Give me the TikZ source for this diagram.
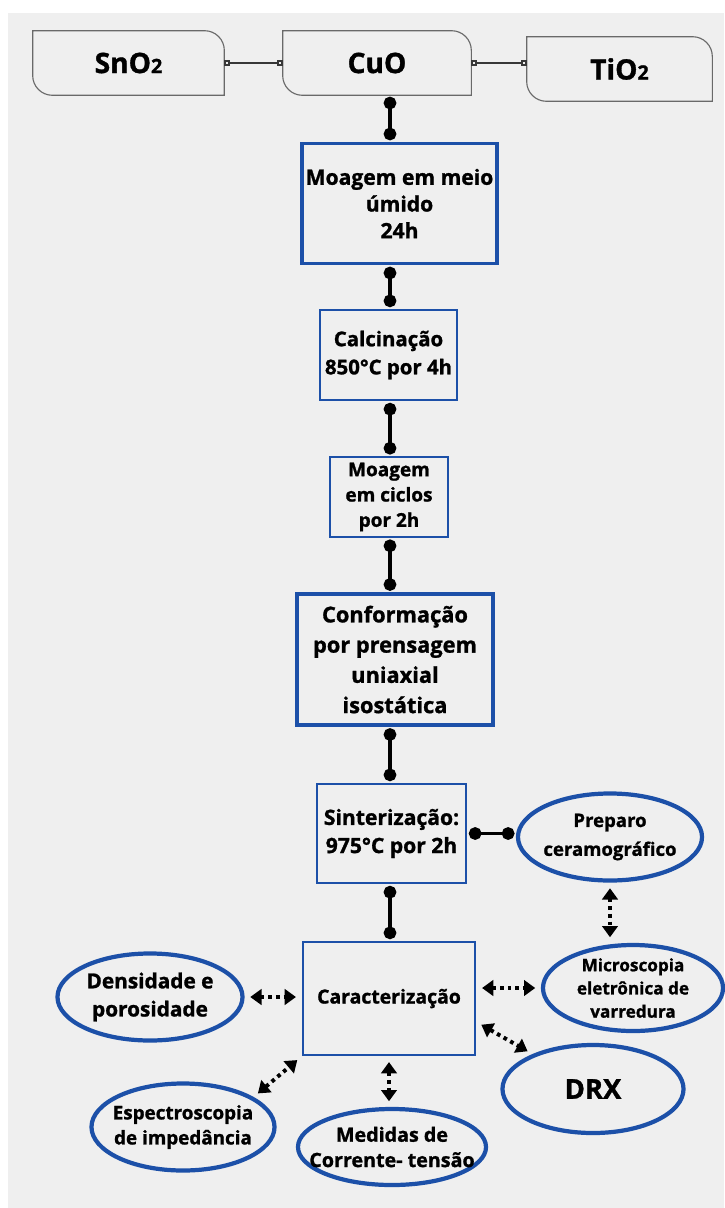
\documentclass[tikz,border=0pt]{standalone}
\usepackage{fontspec}
\setmainfont{Open Sans}[BoldFeatures={FakeBold=1.2}]
\usetikzlibrary{shapes.geometric,arrows.meta}

\definecolor{boxblue}{RGB}{28,80,168}
\definecolor{paper}{RGB}{239,239,239}
\definecolor{tabgray}{RGB}{105,105,105}
\definecolor{tiegray}{RGB}{55,55,55}

\tikzset{
  tab/.style={inner sep=0pt, minimum height=1.6cm, font=\fontsize{20}{22}\selectfont\bfseries},
  tabline/.style={draw=tabgray, line width=0.8pt},
  stepbox/.style={draw=boxblue, line width=2pt, align=center, inner sep=2pt},
  bubble/.style={ellipse, draw=boxblue, line width=3pt, align=center, inner xsep=-20pt, inner ysep=-6pt},
  link/.style={line width=2.4pt, {Circle[length=9pt]}-{Circle[length=9pt]}, shorten <=1pt, shorten >=1pt},
  tie/.style={draw=tiegray, line width=1.1pt, {Square[open,length=4pt]}-{Square[open,length=4pt]}},
  dotarrow/.style={line width=2.8pt, dash pattern=on 2.6pt off 2.8pt, {Triangle[length=8pt,width=11pt]}-{Triangle[length=8pt,width=11pt]}, shorten <=4pt, shorten >=4pt}
}

\begin{document}
\begin{tikzpicture}[x=0.025cm, y=-0.025cm]
    \useasboundingbox (0,0) rectangle (724,1208);
    % Background
    \fill[paper] (8,13) rectangle (724,1208);

    % Oxides
    \node[tab, minimum width=4.775cm] (sno) at (128.5,63) {SnO{\fontsize{14}{14}\selectfont 2}};
    \node[tab, minimum width=4.7cm] (cuo) at (377,63) {CuO};
    \node[tab, minimum width=4.625cm] (tio) at (619.5,69) {TiO{\fontsize{14}{14}\selectfont 2}};
    \draw[tabline] (sno.north west) -- ([xshift=-14pt]sno.north east)
        arc[start angle=90, end angle=0, radius=14pt] -- (sno.south east)
        -- ([xshift=14pt]sno.south west)
        arc[start angle=270, end angle=180, radius=14pt] -- cycle;
    \draw[tabline] (cuo.north west) -- ([xshift=-14pt]cuo.north east)
        arc[start angle=90, end angle=0, radius=14pt] -- (cuo.south east)
        -- ([xshift=14pt]cuo.south west)
        arc[start angle=270, end angle=180, radius=14pt] -- cycle;
    \draw[tabline] (tio.north west) -- ([xshift=-14pt]tio.north east)
        arc[start angle=90, end angle=0, radius=14pt] -- (tio.south east)
        -- ([xshift=14pt]tio.south west)
        arc[start angle=270, end angle=180, radius=14pt] -- cycle;
    \draw[tie] (sno) -- (cuo);
    \draw[tie] (cuo.east) -- (cuo.east -| tio.west);

    % Process steps
    \coordinate (spine) at (390,0);
    \node[stepbox, line width=2.5pt, minimum width=4.875cm, minimum height=3cm,
        font=\fontsize{15}{19}\selectfont\bfseries] (moag) at (399.5,203.5)
        {Moagem em meio\\úmido\\24h};
    \node[stepbox, minimum width=3.425cm, minimum height=2.25cm,
        font=\fontsize{14.5}{20}\selectfont\bfseries] (calcin) at (388.5,355)
        {Calcinação\\850°C por 4h};
    \node[stepbox, line width=1.5pt, minimum width=2.95cm, minimum height=2cm,
        font=\fontsize{13.5}{18}\selectfont\bfseries] (ciclo) at (389,497)
        {Moagem\\em ciclos\\por 2h};
    \node[stepbox, line width=2.5pt, minimum width=4.9cm, minimum height=3.275cm,
        font=\fontsize{15.5}{21.5}\selectfont\bfseries] (conf) at (395,659.5)
        {Conformação\\por prensagem\\uniaxial\\isostática};
    \node[stepbox, minimum width=3.725cm, minimum height=2.475cm,
        font=\fontsize{15}{20}\selectfont\bfseries] (sint) at (391.5,833.5)
        {Sinterização:\\975°C por 2h};
    \node[stepbox, minimum width=4.3cm, minimum height=2.825cm,
        font=\fontsize{13.8}{18}\selectfont\bfseries] (carac) at (389,998.5)
        {Caracterização};

    \draw[link] (cuo.south -| spine) -- (moag.north -| spine);
    \draw[link] (moag.south -| spine) -- (calcin.north -| spine);
    \draw[link] (calcin.south -| spine) -- (ciclo.north -| spine);
    \draw[link] (ciclo.south -| spine) -- (conf.north -| spine);
    \draw[link] (conf.south -| spine) -- (sint.north -| spine);
    \draw[link] (sint.south -| spine) -- (carac.north -| spine);

    % Analyses
    \node[bubble, minimum width=4.6cm, minimum height=2.175cm,
        font=\fontsize{13.2}{20.5}\selectfont\bfseries] (prep) at (610,837)
        {Preparo\\ceramográfico};
    \node[bubble, minimum width=4.5cm, minimum height=2.15cm,
        font=\fontsize{12.2}{16.5}\selectfont\bfseries] (micro) at (633,988)
        {Microscopia\\eletrônica de\\varredura};
    \node[bubble, minimum width=4.625cm, minimum height=2.175cm,
        font=\fontsize{14.8}{20}\selectfont\bfseries] (dens) at (150,997)
        {Densidade e\\porosidade};
    \node[bubble, minimum width=4.575cm, minimum height=2.175cm,
        font=\fontsize{13.4}{17.8}\selectfont\bfseries] (espec) at (183,1127)
        {Espectroscopia\\de impedância};
    \node[bubble, minimum width=4.7cm, minimum height=1.9cm,
        font=\fontsize{14}{18}\selectfont\bfseries] (medidas) at (392,1147)
        {Medidas de\\Corrente- tensão};
    \node[bubble, minimum width=4.525cm, minimum height=2.2cm,
        font=\fontsize{19.5}{24}\selectfont\bfseries] (drx) at (593,1089)
        {DRX};

    \draw[link] (sint.east) -- (sint.east -| prep.west);
    \draw[dotarrow] (prep.south) -- (prep.south |- micro.north);
    \draw[dotarrow] (carac.east |- micro.west) -- (micro.west);
    \draw[dotarrow] (carac.-15) -- (drx.150);
    \draw[dotarrow] (dens.east) -- (dens.east -| carac.west);
    \draw[dotarrow] (espec.23) -- (carac.south west);
    \draw[dotarrow] (carac.south) -- (carac.south |- medidas.north);
  \end{tikzpicture}
\end{document}
